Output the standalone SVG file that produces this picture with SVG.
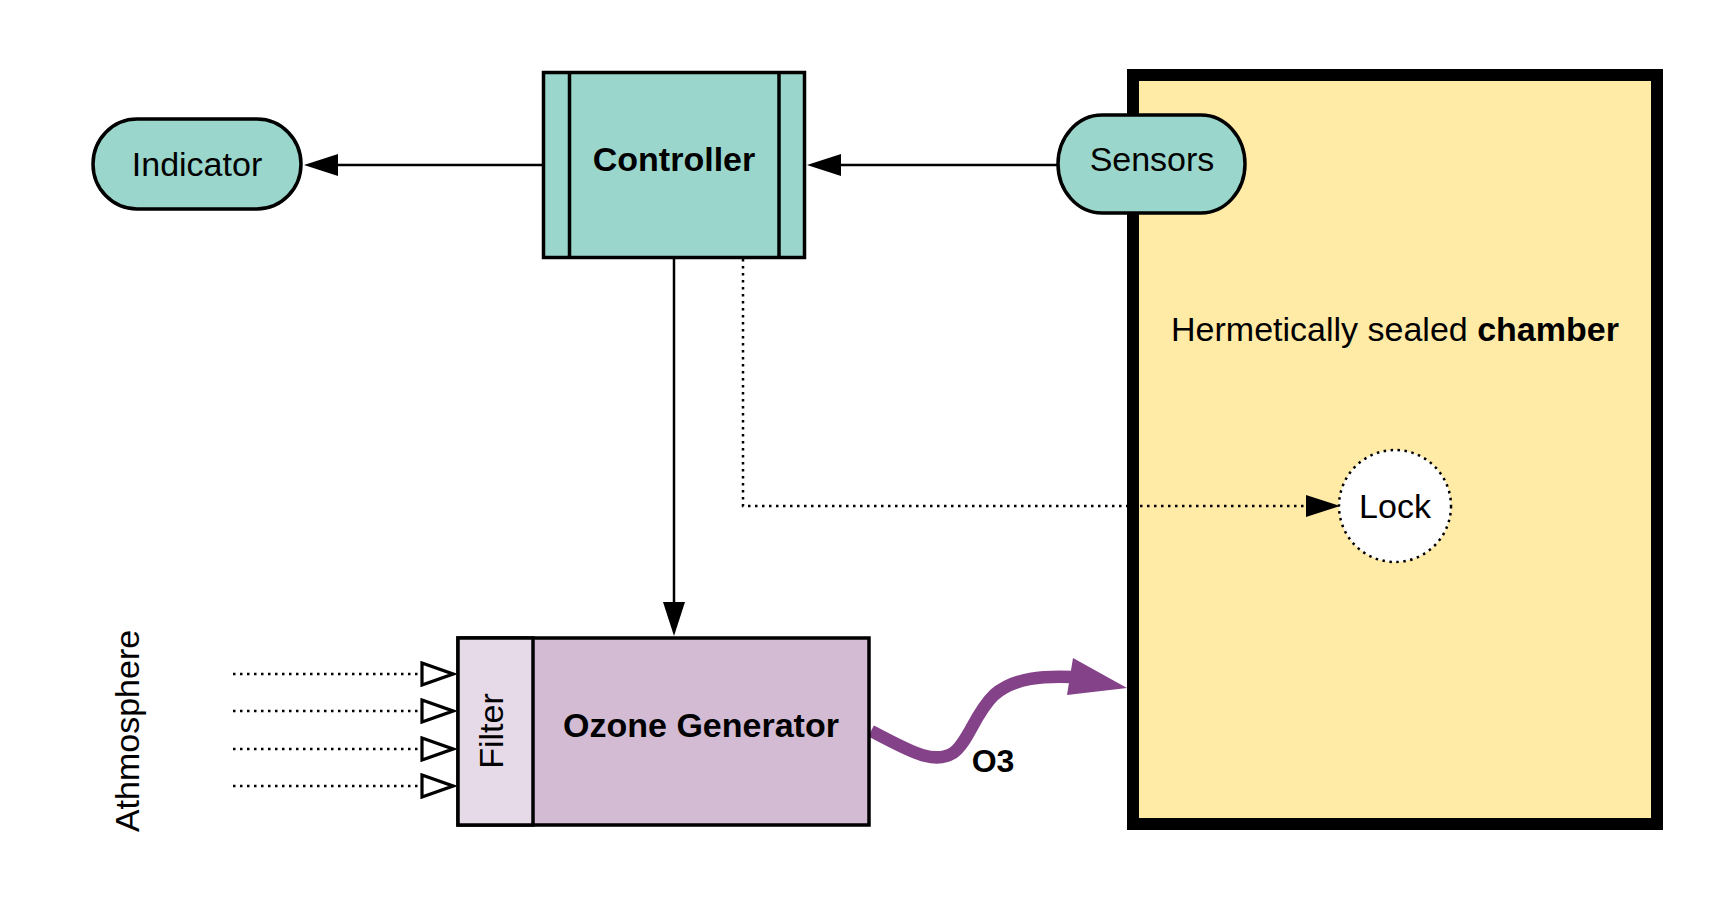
<svg xmlns="http://www.w3.org/2000/svg" width="1732" height="899" viewBox="0 0 1732 899">
<style>
text{font-family:"Liberation Sans",Arial,sans-serif;font-size:34px;fill:#000}
.b{font-weight:bold}
.teal{fill:#9AD6CB;stroke:#000;stroke-width:3.5}
.ln{fill:none;stroke:#000;stroke-width:2.5}
.dot{fill:none;stroke:#000;stroke-width:2.5;stroke-dasharray:2.5 4.5}
</style>
<defs>
<marker id="arr" markerUnits="userSpaceOnUse" markerWidth="34" markerHeight="22" viewBox="0 0 34 22" refX="0" refY="11" orient="auto">
<path d="M0,0 L34,11 L0,22 z" fill="#000"/>
</marker>
<marker id="open" markerUnits="userSpaceOnUse" markerWidth="36" markerHeight="26" viewBox="0 0 36 26" refX="1" refY="13" orient="auto">
<path d="M2,2 L33,13 L2,24 z" fill="#fff" stroke="#000" stroke-width="3.2" stroke-linejoin="miter"/>
</marker>
</defs>
<rect width="1732" height="899" fill="#fff"/>

<g id="chamber">
<rect x="1133" y="75" width="524" height="749" fill="#FFEAA6" stroke="#000" stroke-width="12"/>
<text x="1395" y="341" text-anchor="middle">Hermetically sealed <tspan class="b">chamber</tspan></text>
</g>

<g id="connectors">
<line class="ln" x1="542" y1="165" x2="338" y2="165" marker-end="url(#arr)"/>
<line class="ln" x1="1057" y1="165" x2="841" y2="165" marker-end="url(#arr)"/>
<line class="ln" x1="674" y1="258" x2="674" y2="602" marker-end="url(#arr)"/>
<polyline class="dot" points="743,259 743,506 1306,506" marker-end="url(#arr)"/>
<line class="dot" x1="233" y1="674" x2="421" y2="674" marker-end="url(#open)"/>
<line class="dot" x1="233" y1="711" x2="421" y2="711" marker-end="url(#open)"/>
<line class="dot" x1="233" y1="749" x2="421" y2="749" marker-end="url(#open)"/>
<line class="dot" x1="233" y1="786" x2="421" y2="786" marker-end="url(#open)"/>
<path d="M 871 731 C 905 748, 932 766, 953 753 C 968 743, 975 713, 994 695 C 1014 677, 1045 676, 1072 677" fill="none" stroke="#844289" stroke-width="12.5"/>
<polygon points="1127,688 1067,695 1073,658" fill="#844289"/>
<text class="b" x="993" y="772" text-anchor="middle" style="font-size:32px">O3</text>
</g>

<g id="indicator">
<rect class="teal" x="93" y="119" width="208" height="90" rx="44" ry="45"/>
<text x="197" y="176" text-anchor="middle">Indicator</text>
</g>

<g id="controller">
<rect class="teal" x="543.5" y="72.5" width="261" height="185"/>
<line x1="569.5" y1="72.5" x2="569.5" y2="257.5" stroke="#000" stroke-width="3.5"/>
<line x1="779" y1="72.5" x2="779" y2="257.5" stroke="#000" stroke-width="3.5"/>
<text class="b" x="674" y="171" text-anchor="middle">Controller</text>
</g>

<g id="sensors">
<rect class="teal" x="1058" y="115" width="187" height="98" rx="44" ry="49"/>
<text x="1152" y="171" text-anchor="middle">Sensors</text>
</g>

<g id="lock">
<circle cx="1395" cy="506" r="56" fill="#fff" stroke="#000" stroke-width="2.5" stroke-dasharray="2.5 4.5"/>
<text x="1395" y="518" text-anchor="middle">Lock</text>
</g>

<g id="ozone-generator">
<rect x="458" y="638" width="411" height="187" fill="#D2BBD3" stroke="#000" stroke-width="3.5"/>
<rect x="458" y="638" width="75" height="187" fill="#E6DAE8" stroke="#000" stroke-width="3.5"/>
<text class="b" x="701" y="737" text-anchor="middle">Ozone Generator</text>
<text x="0" y="0" text-anchor="middle" dominant-baseline="central" transform="translate(491 731) rotate(-90)">Filter</text>
</g>

<g id="atmosphere">
<text x="0" y="0" text-anchor="middle" dominant-baseline="central" transform="translate(127 731) rotate(-90)">Athmosphere</text>
</g>
</svg>
